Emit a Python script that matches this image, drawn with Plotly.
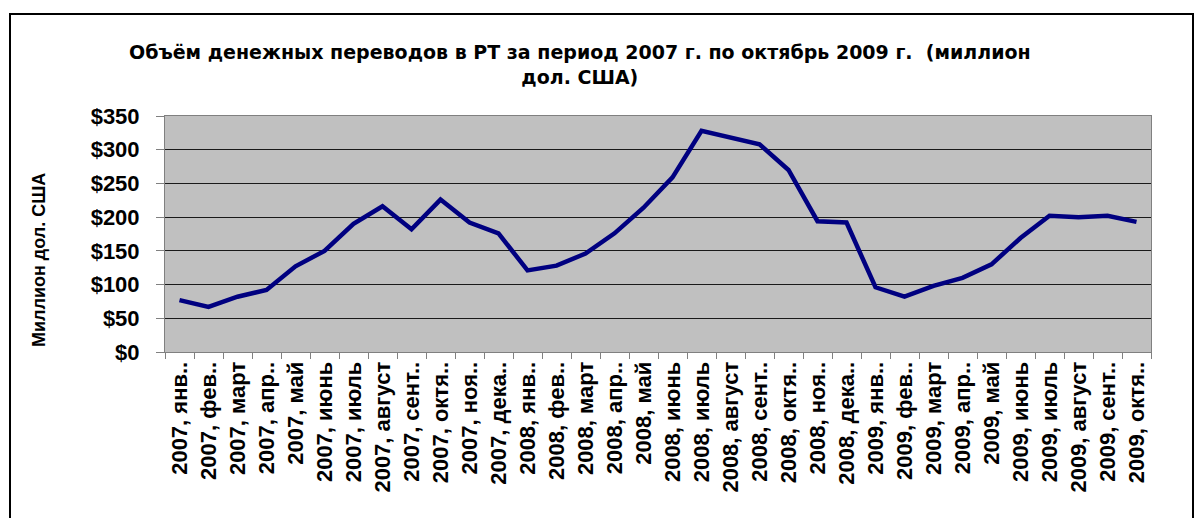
import plotly.graph_objects as go

years = ["2007"] * 12 + ["2008"] * 12 + ["2009"] * 10
months = ["янв..", "фев..", "март", "апр..", "май", "июнь", "июль", "август",
          "сент..", "октя..", "ноя..", "дека..",
          "янв..", "фев..", "март", "апр..", "май", "июнь", "июль", "август",
          "сент..", "октя..", "ноя..", "дека..",
          "янв..", "фев..", "март", "апр..", "май", "июнь", "июль", "август",
          "сент..", "октя.."]
categories = [f"{y}, {m}" for y, m in zip(years, months)]
values = [77, 67, 82, 92, 127, 150, 190, 216, 182, 226, 192, 176,
          121, 128, 146, 176, 214, 259, 328, 318, 308, 270, 194, 192,
          96, 82, 98, 110, 130, 169, 202, 200, 202, 193]
y_ticks = [0, 50, 100, 150, 200, 250, 300, 350]
y_tick_labels = [f"${v}" for v in y_ticks]

title_text = ("Объём денежных переводов в РТ за период 2007 г. по октябрь 2009 г.  (миллион"
              "<br>дол. США)")
y_title = "Миллион дол. США"

arial = "Liberation Sans, Arial, sans-serif"
wide = "DejaVu Sans, Verdana, sans-serif"

# page body has an 8px margin; target screen positions are offset accordingly
OFF = 8
L, R, T, B = 165 - OFF, 1151 - OFF, 116 - OFF, 352 - OFF
W, H = 1203, 518
pw, ph = R - L, B - T

fig = go.Figure()
fig.add_trace(go.Scatter(
    x=categories, y=values, mode="lines",
    line=dict(color="#000080", width=4.5),
    showlegend=False, hoverinfo="x+y",
))

fig.update_layout(
    width=W, height=H,
    margin=dict(l=L, r=W - R, t=T, b=H - B, autoexpand=False),
    paper_bgcolor="white",
    plot_bgcolor="#C0C0C0",
    font=dict(family=arial, color="black"),
    xaxis=dict(
        type="category",
        tickmode="linear", dtick=1,
        tickangle=-90,
        tickson="boundaries",
        ticks="outside", ticklen=6, tickcolor="#808080",
        showgrid=False,
        showline=True, linecolor="#808080", linewidth=1, mirror=True,
        tickfont=dict(size=22, family=arial, color="black", weight="bold"),
        range=[-0.5, len(categories) - 0.5],
        automargin=False,
    ),
    yaxis=dict(
        range=[0, 350],
        tickvals=y_ticks, ticktext=y_tick_labels,
        ticks="outside", ticklen=8, tickcolor="#808080",
        ticklabelstandoff=12,
        showgrid=True, gridcolor="#1a1a1a", gridwidth=1,
        showline=True, linecolor="#808080", linewidth=1, mirror=True,
        zeroline=False,
        tickfont=dict(size=22, family=arial, color="black", weight="bold"),
        automargin=False,
    ),
    annotations=[
        dict(text=f"<b>{title_text}</b>", xref="paper", yref="paper",
             x=(580 - OFF - L) / pw, y=1 + (T - (39 - OFF)) / ph,
             xanchor="center", yanchor="top",
             showarrow=False, align="center",
             font=dict(size=19, family=wide, color="black")),
        dict(text=f"<b>{y_title}</b>", xref="paper", yref="paper",
             x=(39 - OFF - L) / pw, y=(B - (260 - OFF)) / ph,
             xanchor="center", yanchor="middle",
             textangle=-90, showarrow=False,
             font=dict(size=18, family=arial, color="black")),
    ],
    shapes=[dict(type="rect", xref="paper", yref="paper",
                 x0=(10 - OFF - L) / pw, x1=(1193 - OFF - L) / pw,
                 y0=-1.2, y1=1 + (T - (14 - OFF)) / ph,
                 line=dict(color="black", width=2), fillcolor="rgba(0,0,0,0)",
                 layer="below")],
)

fig.write_html("out.html")
